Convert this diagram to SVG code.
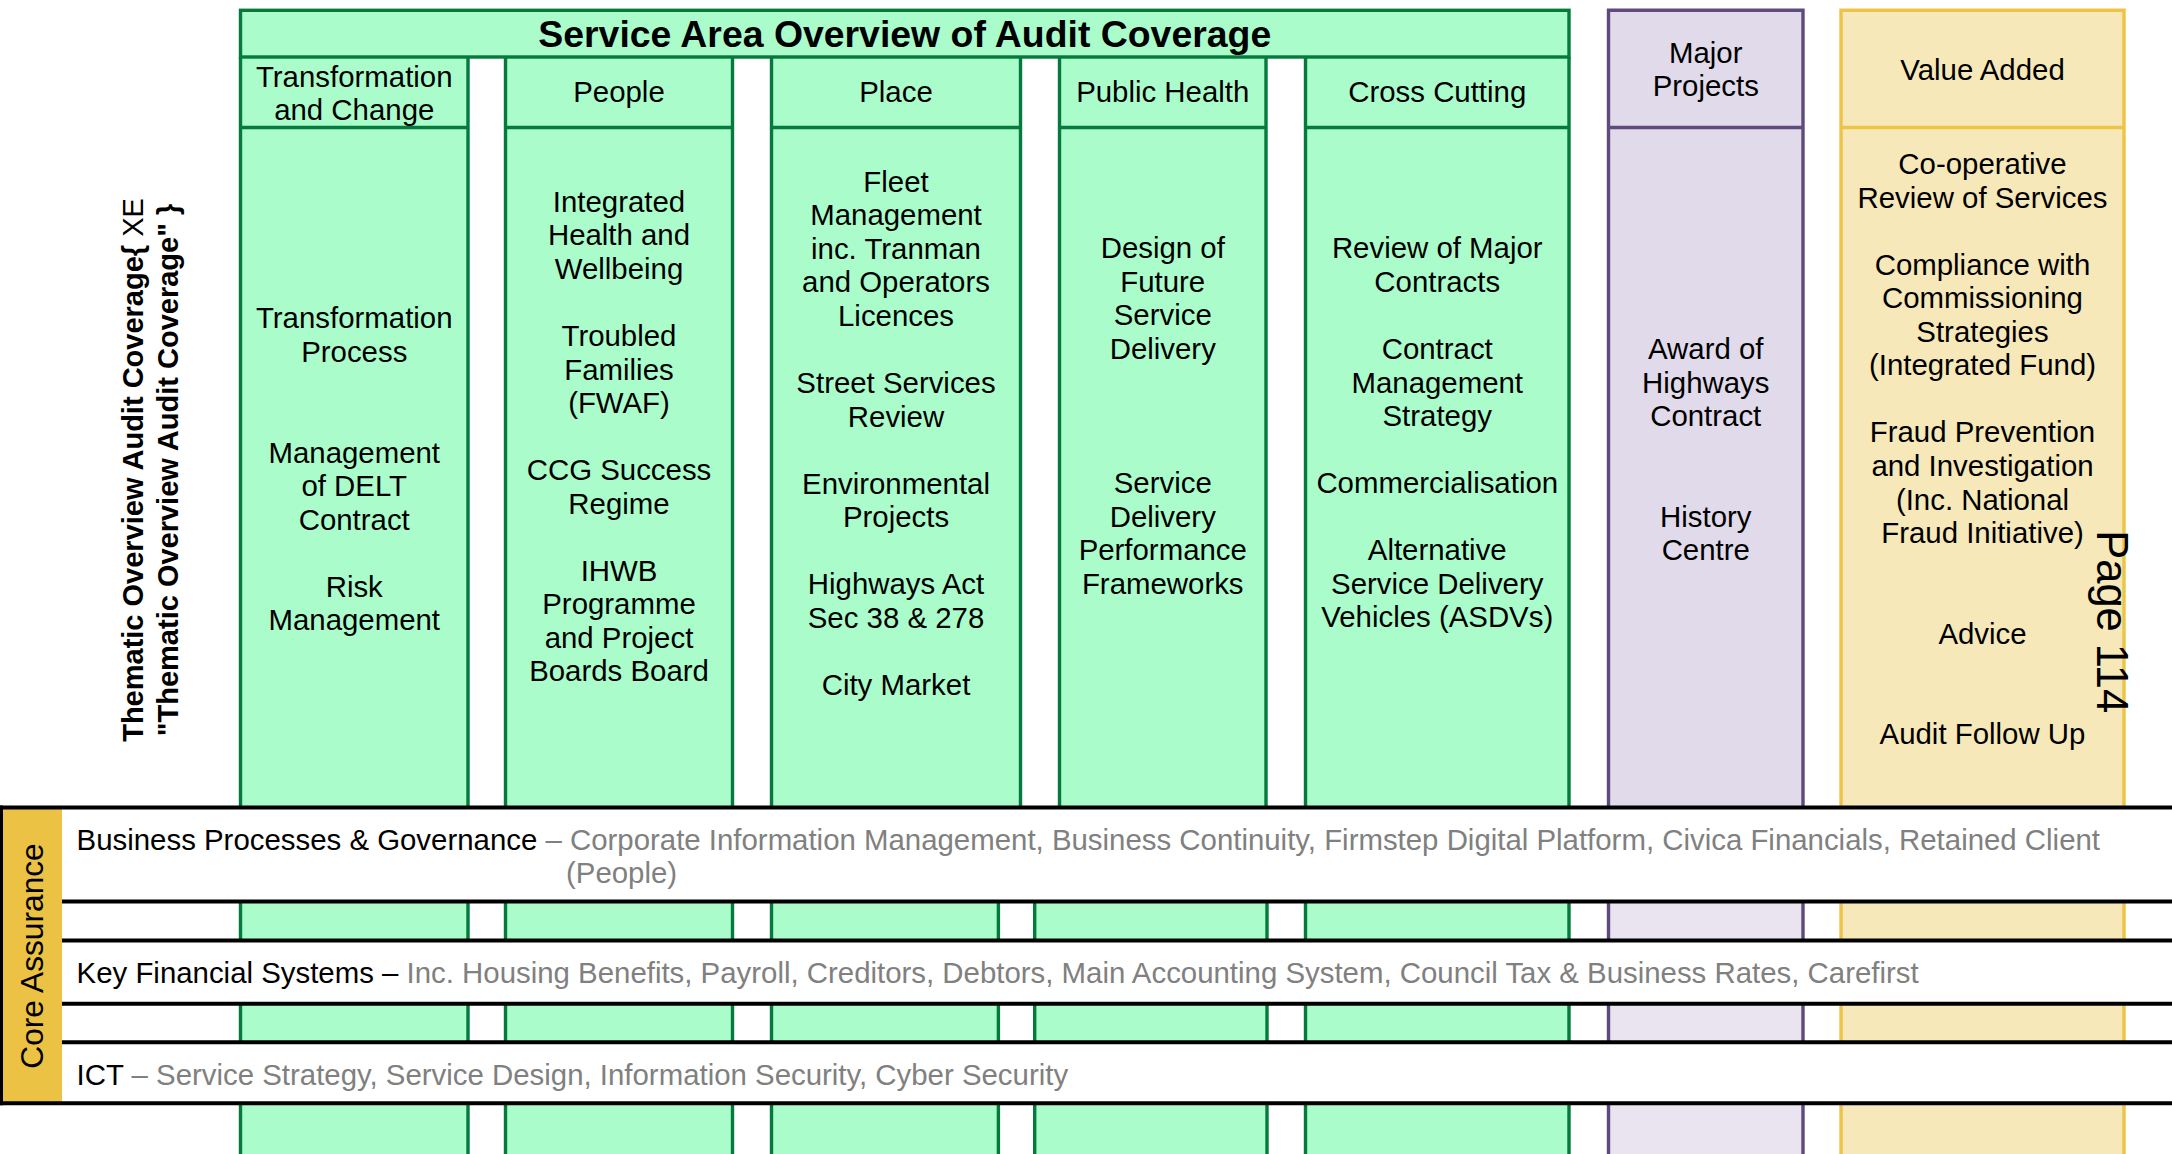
<svg xmlns="http://www.w3.org/2000/svg" width="2172" height="1154" viewBox="0 0 2172 1154">
  <style>
    text { font-family: "Liberation Sans", Arial, Helvetica, sans-serif; }
    .gf { fill: #aafdcb; }
    .gs { fill: none; stroke: #047a3c; stroke-width: 3.4; }
    .pf { fill: #e1daea; }
    .pf2 { fill: #e9e4f0; }
    .ps { fill: none; stroke: #604a7b; stroke-width: 3.4; }
    .yf { fill: #f6e8b9; }
    .ys { fill: none; stroke: #edc445; stroke-width: 3.4; }
    .t { font-size: 29.4px; text-anchor: middle; fill: #000; }
    .title { font-size: 37.4px; font-weight: bold; text-anchor: middle; fill: #000; }
    .band { fill: #fff; }
    .rule { fill: none; stroke: #000; stroke-width: 4; }
    .bt { font-size: 29.4px; fill: #000; }
    .grey { fill: #808080; }
  </style>

  <rect x="0" y="0" width="2172" height="1154" fill="#fff"/>

  <!-- service area columns -->
  <g id="col-transformation">
    <rect class="gf" x="240.5" y="57" width="227.5" height="1110"/>
    <path class="gs" d="M240.5 57V1160M468 57V1160M240.5 127.5H468"/>
    <text class="t"><tspan x="354.25" y="87">Transformation</tspan><tspan x="354.25" y="119.5">and Change</tspan></text>
    <text class="t"><tspan x="354.25" y="328.3">Transformation</tspan><tspan x="354.25" y="361.9">Process</tspan><tspan x="354.25" y="462.5">Management</tspan><tspan x="354.25" y="496">of DELT</tspan><tspan x="354.25" y="529.6">Contract</tspan><tspan x="354.25" y="596.7">Risk</tspan><tspan x="354.25" y="630.2">Management</tspan></text>
  </g>

  <g id="col-people">
    <rect class="gf" x="505.5" y="57" width="227" height="1110"/>
    <path class="gs" d="M505.5 57V1160M732.5 57V1160M505.5 127.5H732.5"/>
    <text class="t" x="619" y="102">People</text>
    <text class="t"><tspan x="619" y="211.7">Integrated</tspan><tspan x="619" y="245.3">Health and</tspan><tspan x="619" y="278.8">Wellbeing</tspan><tspan x="619" y="345.9">Troubled</tspan><tspan x="619" y="379.5">Families</tspan><tspan x="619" y="413">(FWAF)</tspan><tspan x="619" y="480.1">CCG Success</tspan><tspan x="619" y="513.7">Regime</tspan><tspan x="619" y="580.8">IHWB</tspan><tspan x="619" y="614.3">Programme</tspan><tspan x="619" y="647.9">and Project</tspan><tspan x="619" y="681.4">Boards Board</tspan></text>
  </g>

  <g id="col-place">
    <rect class="gf" x="771.5" y="57" width="249" height="752"/>
    <path class="gs" d="M771.5 57V809M1020.5 57V809M771.5 127.5H1020.5"/>
    <rect class="gf" x="771.5" y="806" width="226.9" height="360"/>
    <path class="gs" d="M771.5 806V1160M998.4 806V1160"/>
    <text class="t" x="896" y="102">Place</text>
    <text class="t"><tspan x="896" y="191.7">Fleet</tspan><tspan x="896" y="225.2">Management</tspan><tspan x="896" y="258.8">inc. Tranman</tspan><tspan x="896" y="292.3">and Operators</tspan><tspan x="896" y="325.9">Licences</tspan><tspan x="896" y="393">Street Services</tspan><tspan x="896" y="426.5">Review</tspan><tspan x="896" y="493.6">Environmental</tspan><tspan x="896" y="527.2">Projects</tspan><tspan x="896" y="594.3">Highways Act</tspan><tspan x="896" y="627.8">Sec 38 &amp; 278</tspan><tspan x="896" y="694.9">City Market</tspan></text>
  </g>

  <g id="col-public-health">
    <rect class="gf" x="1059.5" y="57" width="206.5" height="752"/>
    <path class="gs" d="M1059.5 57V809M1266 57V809M1059.5 127.5H1266"/>
    <rect class="gf" x="1034.7" y="806" width="232.3" height="360"/>
    <path class="gs" d="M1034.7 806V1160M1267 806V1160"/>
    <text class="t" x="1162.75" y="102">Public Health</text>
    <text class="t"><tspan x="1162.75" y="258.3">Design of</tspan><tspan x="1162.75" y="291.9">Future</tspan><tspan x="1162.75" y="325.4">Service</tspan><tspan x="1162.75" y="359">Delivery</tspan><tspan x="1162.75" y="493.2">Service</tspan><tspan x="1162.75" y="526.7">Delivery</tspan><tspan x="1162.75" y="560.3">Performance</tspan><tspan x="1162.75" y="593.8">Frameworks</tspan></text>
  </g>

  <g id="col-cross-cutting">
    <rect class="gf" x="1305.5" y="57" width="263.5" height="1110"/>
    <path class="gs" d="M1305.5 57V1160M1569 57V1160M1305.5 127.5H1569"/>
    <text class="t" x="1437.25" y="102">Cross Cutting</text>
    <text class="t"><tspan x="1437.25" y="258.3">Review of Major</tspan><tspan x="1437.25" y="291.9">Contracts</tspan><tspan x="1437.25" y="359">Contract</tspan><tspan x="1437.25" y="392.5">Management</tspan><tspan x="1437.25" y="426.1">Strategy</tspan><tspan x="1437.25" y="493.2">Commercialisation</tspan><tspan x="1437.25" y="560.3">Alternative</tspan><tspan x="1437.25" y="593.8">Service Delivery</tspan><tspan x="1437.25" y="627.4">Vehicles (ASDVs)</tspan></text>
  </g>

  <g id="title">
    <rect class="gf" x="240.5" y="10.3" width="1328.5" height="46.7"/>
    <rect class="gs" x="240.5" y="10.3" width="1328.5" height="46.7"/>
    <text class="title" x="904.75" y="47">Service Area Overview of Audit Coverage</text>
  </g>

  <g id="major-projects">
    <rect class="pf" x="1608.5" y="10.3" width="194.5" height="798"/>
    <rect class="pf2" x="1608.5" y="806" width="194.5" height="360"/>
    <path class="ps" d="M1608.5 1160V10.3H1803V1160M1608.5 127.5H1803"/>
    <text class="t"><tspan x="1705.75" y="62.5">Major</tspan><tspan x="1705.75" y="96">Projects</tspan></text>
    <text class="t"><tspan x="1705.75" y="359">Award of</tspan><tspan x="1705.75" y="392.5">Highways</tspan><tspan x="1705.75" y="426.1">Contract</tspan><tspan x="1705.75" y="526.7">History</tspan><tspan x="1705.75" y="560.3">Centre</tspan></text>
  </g>

  <g id="value-added">
    <rect class="yf" x="1841" y="10.3" width="283" height="1160"/>
    <path class="ys" d="M1841 1160V10.3H2124V1160M1841 127.5H2124"/>
    <text class="t" x="1982.5" y="80">Value Added</text>
    <text class="t"><tspan x="1982.5" y="174">Co-operative</tspan><tspan x="1982.5" y="207.6">Review of Services</tspan><tspan x="1982.5" y="274.7">Compliance with</tspan><tspan x="1982.5" y="308.2">Commissioning</tspan><tspan x="1982.5" y="341.8">Strategies</tspan><tspan x="1982.5" y="375.3">(Integrated Fund)</tspan><tspan x="1982.5" y="442.4">Fraud Prevention</tspan><tspan x="1982.5" y="476">and Investigation</tspan><tspan x="1982.5" y="509.5">(Inc. National</tspan><tspan x="1982.5" y="543">Fraud Initiative)</tspan><tspan x="1982.5" y="643.7">Advice</tspan><tspan x="1982.5" y="744.4">Audit Follow Up</tspan></text>
  </g>

  <!-- core assurance bands running across every column -->
  <g id="core-assurance">
    <rect class="band" x="0" y="807.5" width="2172" height="94"/>
    <rect class="band" x="0" y="940.5" width="2172" height="63.3"/>
    <rect class="band" x="0" y="1042.2" width="2172" height="61.1"/>
    <rect x="0" y="807.5" width="62" height="295.8" fill="#ecc244"/>
    <path class="rule" d="M0 807.5H2172M0 1103.3H2172M62 901.5H2172M62 940.5H2172M62 1003.8H2172M62 1042.2H2172"/>
    <path d="M1.5 805.5V1105.3" stroke="#000" stroke-width="3" fill="none"/>
    <text transform="translate(42.5,956) rotate(-90)" font-size="31.7" text-anchor="middle" fill="#000">Core Assurance</text>
  </g>

  <g id="band-business">
    <text class="bt" x="76.6" y="849.5">Business Processes &amp; Governance<tspan class="grey"> – Corporate Information Management, Business Continuity, Firmstep Digital Platform, Civica Financials, Retained Client</tspan></text>
    <text class="bt grey" x="566" y="883">(People)</text>
  </g>
  <g id="band-financial">
    <text class="bt" x="76.6" y="983">Key Financial Systems –<tspan class="grey"> Inc. Housing Benefits, Payroll, Creditors, Debtors, Main Accounting System, Council Tax &amp; Business Rates, Carefirst</tspan></text>
  </g>
  <g id="band-ict">
    <text class="bt" x="76.6" y="1085">ICT<tspan class="grey"> – Service Strategy, Service Design, Information Security, Cyber Security</tspan></text>
  </g>

  <!-- side heading (index field text) -->
  <g id="side-heading">
    <text transform="translate(143.3,470) rotate(-90)" font-size="29" font-weight="bold" text-anchor="middle" fill="#000"><tspan x="0" y="0">Thematic Overview Audit Coverage{ <tspan font-weight="normal">XE</tspan></tspan><tspan x="0" y="35">"Thematic Overview Audit Coverage" }</tspan></text>
  </g>

  <g id="page-number">
    <text transform="translate(2096.7,621.7) rotate(90)" font-size="43.5" text-anchor="middle" fill="#000">Page 114</text>
  </g>
</svg>
